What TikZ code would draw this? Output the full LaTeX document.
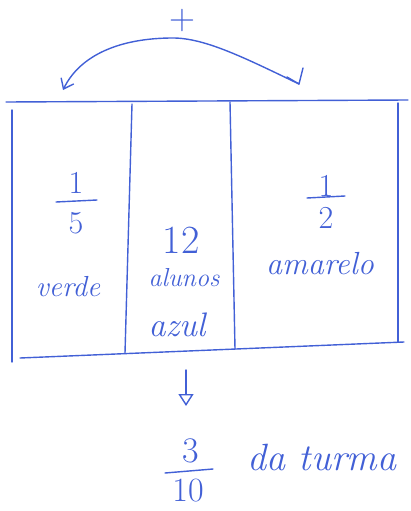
\documentclass[tikz,border=0pt]{standalone}
\usetikzlibrary{arrows.meta}
\definecolor{ink}{RGB}{66,96,214}
\begin{document}
\begin{tikzpicture}[x=1pt,y=-1pt,
  pen/.style={draw=ink,line width=1.4pt,line cap=round,line join=round},
  hand/.style={text=ink,font=\itshape\fontsize{#1}{#1}\selectfont,inner sep=1pt},
  hand/.default=28,
  digit/.style={text=ink,font=\fontsize{#1}{#1}\selectfont,inner sep=1pt},
  digit/.default=32]
\useasboundingbox (0,0) rectangle (410,511);
% frame of the three groups
\coordinate (tl) at (6,102);
\coordinate (tr) at (408,100);
\coordinate (bl) at (20,358);
\coordinate (br) at (404,342);
\draw[pen] (tl) -- (tr);
\draw[pen] (12,110) -- (12,362);
\draw[pen] (398,103) -- (398,342);
\draw[pen] (bl) -- (br);
\draw[pen] (132,104) -- (125,353);
\draw[pen] (230,102) -- (235,349);
% green group: 1/5
\node[digit] (n15) at (76,183) {1};
\node[digit] (d15) at (76,223) {5};
\draw[pen] (56,202) -- (97,200);
\node[hand=29] (verde) at (68,287) {verde};
% blue group: 12 pupils
\node[digit=40] (n12) at (181,240) {12};
\node[hand=26] (alunos) at (184,278) {alunos};
\node[hand=34] (azul) at (177,325) {azul};
% yellow group: 1/2
\node[digit] (n12b) at (326,186) {1};
\node[digit] (d12b) at (326,218) {2};
\draw[pen] (307,198) -- (345,196);
\node[hand=32] (amarelo) at (320,264) {amarelo};
% curved sum arrow
\coordinate (aL) at (63,90);
\coordinate (aR) at (299,84);
\node[digit=36] (plus) at (182,21) {+};
\draw[pen,-{Straight Barb[length=9pt,width=14pt]}] (aR) .. controls (245,58) and (205,38) .. (173,38)
  .. controls (120,38) and (80,55) .. (aL);
\draw[pen] (aR) ++(-12,-7) -- (aR) -- ++(4,-16);
% result
\coordinate (d1) at (186,370);
\coordinate (d2) at (186,406);
\draw[pen,-{Triangle[open,length=12pt,width=15pt]}] (d1) -- (d2);
\node[digit=36] (n310) at (191,451) {3};
\node[digit=34] (d310) at (188,491) {10};
\draw[pen] (165,473) -- (213,469);
\node[hand=38] (turma) at (322,457) {da turma};
\end{tikzpicture}
\end{document}
